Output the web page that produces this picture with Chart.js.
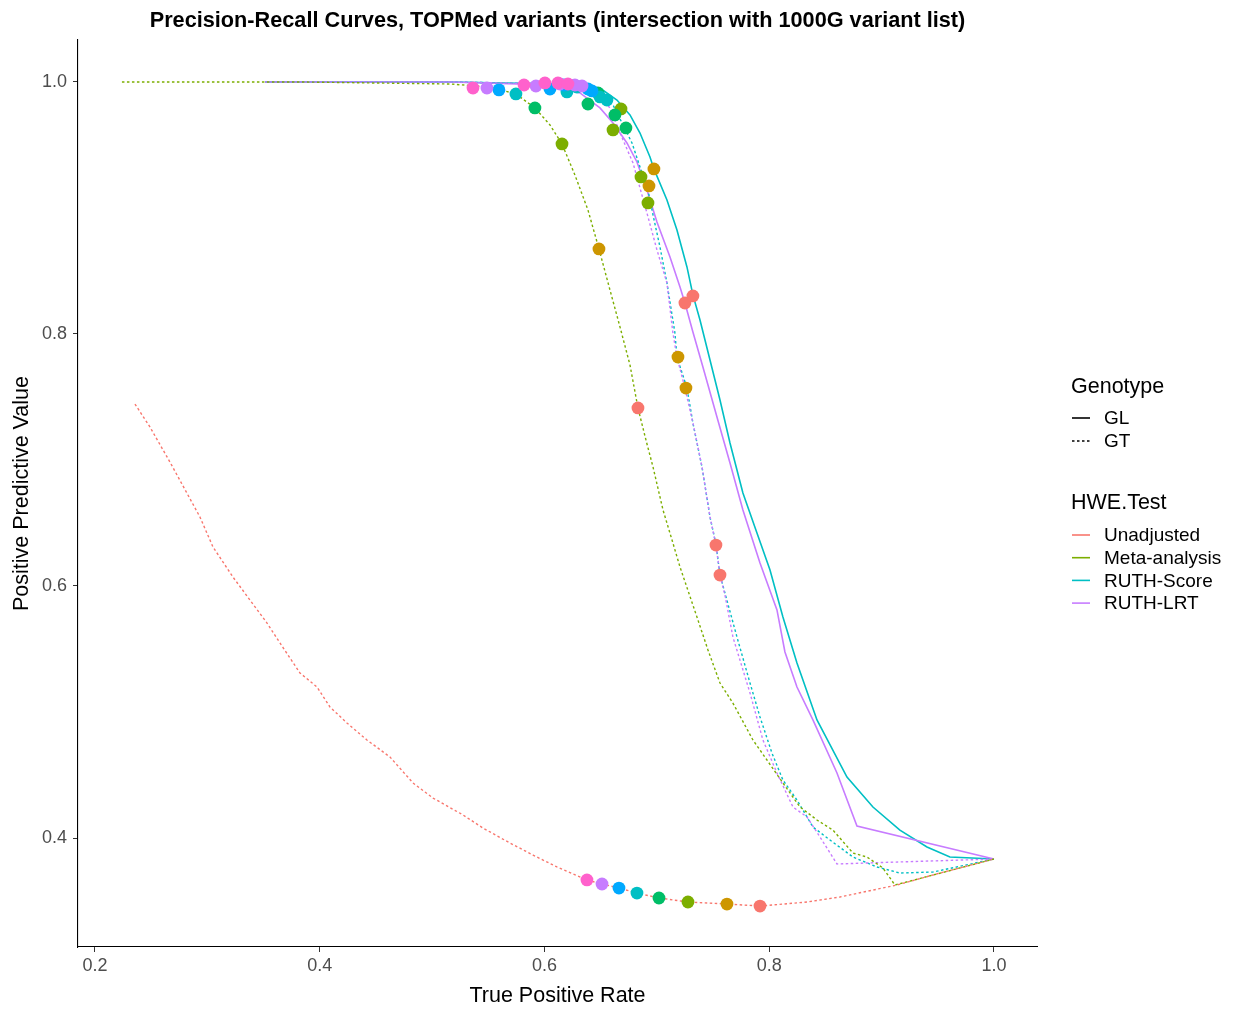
<!DOCTYPE html>
<html><head><meta charset="utf-8">
<script src="https://cdn.jsdelivr.net/npm/chart.js@4.4.0/dist/chart.umd.min.js"></script>
<style>html,body{margin:0;padding:0;background:#fff;}#wrap{width:1233px;height:1010px;}</style>
</head><body><div id="wrap"><canvas id="c" width="1233" height="1010"></canvas></div>
<script>
const chartTitle = "Precision-Recall Curves, TOPMed variants (intersection with 1000G variant list)";
const xTitle = "True Positive Rate";
const yTitle = "Positive Predictive Value";
const xTicks = [0.2, 0.4, 0.6, 0.8, 1.0];
const yTicks = [0.4, 0.6, 0.8, 1.0];
const genotypeTitle = "Genotype";
const genotypes = ["GL", "GT"];
const hweTitle = "HWE.Test";
const hweTests = ["Unadjusted", "Meta-analysis", "RUTH-Score", "RUTH-LRT"];
const hweColors = ["#F8766D", "#7CAE00", "#00BFC4", "#C77CFF"];

// Curves (x = TPR, y = PPV)
const unadjGT_x = [0.2356,0.2489,0.2667,0.2934,0.3050,0.3228,0.3379,0.3531,0.3646,0.3824,0.3976,0.4091,0.4242,0.4420,0.4625,0.4830,0.5008,0.5275,0.5453,0.5693,0.5898,0.6111,0.6378,0.6512,0.6663,0.6823,0.7019,0.7277,0.7624,0.7918,0.8336,0.8630,0.8923,0.9137,0.9519,1.0];
const unadjGT_y = [0.7444,0.7262,0.6984,0.6548,0.6310,0.6071,0.5889,0.5706,0.5548,0.5310,0.5198,0.5040,0.4913,0.4778,0.4643,0.4437,0.4317,0.4183,0.4079,0.3960,0.3865,0.3770,0.3667,0.3635,0.3603,0.3563,0.3524,0.3492,0.3476,0.3460,0.3492,0.3532,0.3587,0.3627,0.3722,0.3833];
const metaGT_x = [0.2240,0.3824,0.5159,0.5515,0.5746,0.5915,0.6049,0.6156,0.6271,0.6387,0.6485,0.6583,0.6672,0.6761,0.6832,0.6903,0.6966,0.7055,0.7135,0.7206,0.7357,0.7455,0.7562,0.7677,0.7855,0.7980,0.8122,0.8274,0.8425,0.8567,0.8745,0.8870,0.9012,0.9119,1.0];
const metaGT_y = [1.0,1.0,0.9984,0.9960,0.9905,0.9794,0.9659,0.9508,0.9262,0.8984,0.8675,0.8349,0.8056,0.7754,0.7413,0.7159,0.6944,0.6603,0.6365,0.6151,0.5754,0.5492,0.5230,0.5071,0.4778,0.4619,0.4437,0.4246,0.4143,0.4063,0.3881,0.3849,0.3762,0.3627,0.3833];
const scoreGL_x = [0.3513,0.5159,0.6138,0.6494,0.6645,0.6761,0.6850,0.6939,0.6974,0.7090,0.7179,0.7268,0.7321,0.7384,0.7473,0.7562,0.7651,0.7766,0.7891,0.8007,0.8122,0.8247,0.8425,0.8692,0.8923,0.9163,0.9404,0.9608,1.0];
const scoreGL_y = [1.0,1.0,0.9984,0.9952,0.9857,0.9738,0.9595,0.9405,0.9310,0.9063,0.8825,0.8532,0.8310,0.8111,0.7794,0.7476,0.7135,0.6738,0.6421,0.6127,0.5754,0.5389,0.4937,0.4484,0.4246,0.4063,0.3929,0.3849,0.3833];
const lrtGL_x = [0.3513,0.5159,0.6049,0.6316,0.6494,0.6610,0.6734,0.6823,0.6912,0.7001,0.7117,0.7206,0.7250,0.7321,0.7410,0.7535,0.7651,0.7766,0.7918,0.8069,0.8140,0.8247,0.8389,0.8603,0.8781,1.0];
const lrtGL_y = [1.0,1.0,0.9976,0.9913,0.9794,0.9675,0.9516,0.9365,0.9143,0.8889,0.8611,0.8373,0.8246,0.8016,0.7738,0.7341,0.6976,0.6603,0.6183,0.5810,0.5476,0.5198,0.4937,0.4516,0.4095,0.3833];
const scoreGT_x = [0.3513,0.5159,0.6138,0.6494,0.6610,0.6699,0.6779,0.6850,0.6921,0.6966,0.7028,0.7090,0.7161,0.7179,0.7268,0.7321,0.7402,0.7473,0.7526,0.7562,0.7606,0.7713,0.7829,0.7918,0.8024,0.8122,0.8247,0.8389,0.8541,0.8745,0.8959,0.9163,0.9457,1.0];
const scoreGT_y = [1.0,1.0,0.9984,0.9921,0.9817,0.9659,0.9516,0.9325,0.9143,0.8944,0.8690,0.8405,0.8008,0.7817,0.7571,0.7294,0.6944,0.6548,0.6333,0.6087,0.5944,0.5595,0.5230,0.4960,0.4675,0.4460,0.4302,0.4087,0.3984,0.3849,0.3770,0.3722,0.3730,0.3833];
const lrtGT_x = [0.3513,0.5159,0.6093,0.6449,0.6583,0.6699,0.6788,0.6912,0.7001,0.7090,0.7143,0.7179,0.7250,0.7321,0.7402,0.7473,0.7526,0.7562,0.7606,0.7677,0.7829,0.7944,0.8069,0.8211,0.8336,0.8452,0.8603,0.9163,1.0];
const lrtGT_y = [1.0,1.0,0.9984,0.9921,0.9794,0.9540,0.9357,0.8960,0.8667,0.8405,0.8008,0.7817,0.7571,0.7294,0.6944,0.6548,0.6325,0.6087,0.5929,0.5595,0.5151,0.4778,0.4516,0.4246,0.4167,0.4008,0.3794,0.3810,0.3833];

// Threshold markers (one colour per threshold)
const thrColors = ["#FF61CC","#C77CFF","#00A9FF","#00BFC4","#00BE67","#7CAE00","#CD9600","#F8766D"];
const thr1_x = [0.5364,0.5818,0.6004,0.6120,0.6209,0.6378], thr1_y = [0.9952,0.9976,0.9992,0.9992,0.9984,0.3667];
const thr2_x = [0.5488,0.5924,0.6138,0.6271,0.6334,0.6512], thr2_y = [0.9952,0.9968,0.9984,0.9976,0.9968,0.3635];
const thr3_x = [0.5595,0.6049,0.6174,0.6387,0.6423,0.6663], thr3_y = [0.9937,0.9944,0.9976,0.9944,0.9929,0.3603];
const thr4_x = [0.5746,0.6200,0.6289,0.6494,0.6556,0.6823], thr4_y = [0.9905,0.9921,0.9960,0.9881,0.9857,0.3563];
const thr5_x = [0.5915,0.6387,0.6476,0.6627,0.6725,0.7019], thr5_y = [0.9794,0.9825,0.9913,0.9738,0.9635,0.3524];
const thr6_x = [0.6156,0.6610,0.6681,0.6859,0.6921,0.7277], thr6_y = [0.9508,0.9619,0.9786,0.9246,0.9040,0.3492];
const thr7_x = [0.6485,0.6930,0.6974,0.7188,0.7259,0.7624], thr7_y = [0.8675,0.9175,0.9310,0.7817,0.7571,0.3476];
const thr8_x = [0.6832,0.7250,0.7321,0.7526,0.7562,0.7918], thr8_y = [0.7413,0.8246,0.8302,0.6325,0.6087,0.3460];

const FONT = '"Liberation Sans", Arial, Helvetica, sans-serif';
const zip = (xs, ys) => xs.map((x, i) => ({x: x, y: ys[i]}));

const curves = [
  {x: unadjGT_x, y: unadjGT_y, test: 0, gt: 1},
  {x: metaGT_x, y: metaGT_y, test: 1, gt: 1},
  {x: lrtGT_x, y: lrtGT_y, test: 3, gt: 1},
  {x: scoreGT_x, y: scoreGT_y, test: 2, gt: 1},
  {x: lrtGL_x, y: lrtGL_y, test: 3, gt: 0},
  {x: scoreGL_x, y: scoreGL_y, test: 2, gt: 0}
];
const thresholds = [
  [thr1_x, thr1_y],[thr2_x, thr2_y],[thr3_x, thr3_y],[thr4_x, thr4_y],
  [thr5_x, thr5_y],[thr6_x, thr6_y],[thr7_x, thr7_y],[thr8_x, thr8_y]
];

const datasets = [];
thresholds.forEach((t, i) => {
  datasets.push({
    data: zip(t[0], t[1]), showLine: false, pointRadius: 6.4, pointHoverRadius: 6.4,
    pointBackgroundColor: thrColors[i], pointBorderWidth: 0, borderColor: thrColors[i], order: 0
  });
});
curves.forEach(c => {
  datasets.push({
    data: zip(c.x, c.y), showLine: true, pointRadius: 0, borderColor: hweColors[c.test],
    borderWidth: c.gt ? 1.4 : 1.6, borderDash: c.gt ? [2.5, 2.5] : [], tension: 0, fill: false, order: 1
  });
});

const overlay = {
  id: 'overlay',
  afterDraw(chart) {
    const ctx = chart.ctx, ca = chart.chartArea;
    ctx.save();
    ctx.fillStyle = '#000';
    ctx.textBaseline = 'middle';
    ctx.textAlign = 'center';
    ctx.font = 'bold 21.7px ' + FONT;
    ctx.fillText(chartTitle, (ca.left + ca.right) / 2, 21);
    ctx.textAlign = 'left';
    // Genotype legend
    ctx.font = '21.5px ' + FONT;
    ctx.fillText(genotypeTitle, 1071, 387);
    ctx.font = '19px ' + FONT;
    genotypes.forEach((g, i) => {
      const y = 418 + i * 23;
      ctx.strokeStyle = '#000'; ctx.lineWidth = 1.6;
      ctx.setLineDash(i ? [2.5, 2.5] : []);
      ctx.beginPath(); ctx.moveTo(1072, y); ctx.lineTo(1090, y); ctx.stroke();
      ctx.fillText(g, 1104, y + 1);
    });
    ctx.setLineDash([]);
    ctx.font = '21.5px ' + FONT;
    ctx.fillText(hweTitle, 1071, 503);
    ctx.font = '19px ' + FONT;
    hweTests.forEach((h, i) => {
      const y = 535 + i * 22.7;
      ctx.strokeStyle = hweColors[i]; ctx.lineWidth = 1.6;
      ctx.beginPath(); ctx.moveTo(1072, y); ctx.lineTo(1090, y); ctx.stroke();
      ctx.fillStyle = '#000';
      ctx.fillText(h, 1104, y + 1);
    });
    ctx.restore();
  }
};

new Chart(document.getElementById('c'), {
  type: 'scatter',
  data: {datasets: datasets},
  plugins: [overlay],
  options: {
    responsive: false, animation: false, devicePixelRatio: 1,
    layout: {padding: {left: 0, right: 196, top: 40, bottom: 0}},
    plugins: {legend: {display: false}, tooltip: {enabled: false}, title: {display: false}},
    scales: {
      x: {
        type: 'linear', min: 0.1849, max: 1.0383,
        afterFit: s => { s.height = 63; },
        afterBuildTicks: s => { s.ticks = xTicks.map(v => ({value: v})); },
        ticks: {autoSkip: false, padding: 3, color: '#4D4D4D', font: {family: FONT, size: 18}, callback: v => Number(v).toFixed(1)},
        grid: {display: true, drawOnChartArea: false, drawTicks: true, tickLength: 5, color: '#333'},
        border: {display: true, color: '#000', width: 1.1},
        title: {display: true, text: xTitle, color: '#000', font: {family: FONT, size: 21.5}, padding: {top: 0, bottom: 1}}
      },
      y: {
        type: 'linear', min: 0.3135, max: 1.0333,
        afterFit: s => { s.width = 78; },
        afterBuildTicks: s => { s.ticks = yTicks.map(v => ({value: v})); },
        ticks: {autoSkip: false, padding: 6, color: '#4D4D4D', font: {family: FONT, size: 18}, callback: v => Number(v).toFixed(1)},
        grid: {display: true, drawOnChartArea: false, drawTicks: true, tickLength: 5, color: '#333'},
        border: {display: true, color: '#000', width: 1.1},
        title: {display: true, text: yTitle, color: '#000', font: {family: FONT, size: 21.5}, padding: {top: 9, bottom: 0}}
      }
    }
  }
});
</script>
</body></html>
